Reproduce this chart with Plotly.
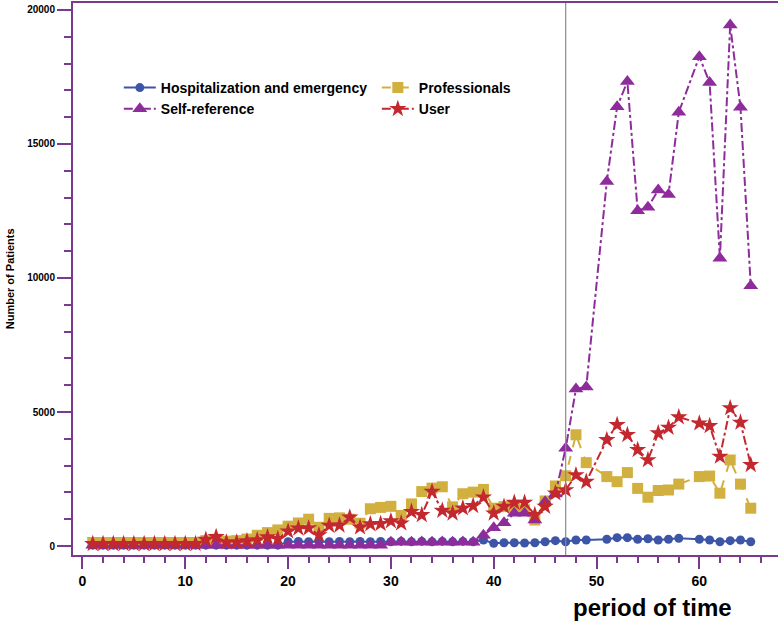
import plotly.graph_objects as go

period = list(range(1, 50)) + list(range(51, 59)) + list(range(60, 66))

hospitalization = [30]*19 + [160, 170, 160, 170, 160, 170, 160, 170, 160, 170,
                   160, 170, 160, 170, 160, 170, 160, 170, 160, 224, 100, 120, 120, 110,
                   120, 160, 200, 160, 224, 224,
                   250, 310, 310, 250, 270, 224, 250, 290,
                   250, 224, 160, 200, 224, 160]

professionals = [130]*11 + [200, 250, 180, 200, 260, 400, 500, 600, 740, 860, 1000, 700,
                 1030, 1050, 1000, 850, 1390, 1440, 1480, 1140, 1570, 2030, 2160, 2210,
                 1460, 1950, 2010, 2110, 1410, 1470, 1410, 1350, 970, 1680, 2240, 2620,
                 4150, 3110,
                 2590, 2400, 2740, 2150, 1820, 2070, 2090, 2310,
                 2590, 2610, 1970, 3210, 2310, 1410]

self_reference = [30]*29 + [140, 150, 140, 150, 140, 150, 140, 150, 140,
                  400, 680, 870, 1220, 1220, 970, 1650, 1940, 3650, 5860, 5930,
                  13600, 16390, 17330, 12510, 12640, 13280, 13120, 16180,
                  18260, 17290, 10740, 19440, 16370, 9710]

user = [80]*11 + [240, 340, 140, 140, 180, 220, 330, 270, 550, 660, 670, 410, 760,
        770, 1070, 700, 820, 830, 930, 850, 1280, 1160, 2030, 1320, 1220, 1410, 1500,
        1820, 1220, 1470, 1620, 1620, 1160, 1470, 1970, 2090, 2650, 2400,
        3960, 4520, 4150, 3590, 3210, 4210, 4420, 4810,
        4580, 4480, 3340, 5150, 4610, 3030]

x_ticks = [0, 10, 20, 30, 40, 50, 60]
y_ticks = [0, 5000, 10000, 15000, 20000]
y_ticktext = ["0", "5000", "10000", "15000", "20000"]

names = ["Hospitalization and emergency", "Professionals", "Self-reference", "User"]
colors = ["#3d55a6", "#d1b040", "#8e2c9c", "#c4282f"]
symbols = ["circle", "square", "triangle-up", "star"]
sizes = [9, 11, 13, 13]
dashes = ["solid", "dash", "dashdot", "dashdot"]
series = [hospitalization, professionals, self_reference, user]

AXIS = "#7a3b8f"
FONT = "Arial, Liberation Sans, sans-serif"

fig = go.Figure()
for name, vals, col, sym, sz, dsh in zip(names, series, colors, symbols, sizes, dashes):
    fig.add_trace(go.Scatter(
        x=period, y=vals, name=name, mode="lines+markers",
        line=dict(color=col, width=2, dash=dsh),
        marker=dict(symbol=sym, size=sz, color=col, line=dict(width=0)),
    ))

fig.add_shape(type="line", xref="x", yref="paper", x0=47, x1=47, y0=0, y1=1,
              line=dict(color="#8a8a8a", width=1.2))

fig.update_layout(
    width=778, height=623,
    margin=dict(l=73, r=0, t=3, b=68),
    plot_bgcolor="white", paper_bgcolor="white",
    showlegend=True,
    legend=dict(
        orientation="h", x=0.065, y=0.875, xanchor="left", yanchor="top",
        entrywidth=211, entrywidthmode="pixels", itemwidth=32,
        font=dict(family=FONT, size=14, color="black", weight="bold"),
        bgcolor="rgba(0,0,0,0)", tracegroupgap=0,
    ),
    xaxis=dict(
        range=[-0.92, 67.65], showgrid=False, zeroline=False,
        showline=True, linecolor=AXIS, linewidth=2, mirror=True,
        ticks="outside", ticklen=12, tickwidth=2, tickcolor=AXIS,
        tickvals=x_ticks,
        tickfont=dict(family=FONT, size=14, color="black", weight="bold"),
        minor=dict(dtick=2, tick0=0, ticks="outside", ticklen=6, tickwidth=2, tickcolor=AXIS),
    ),
    yaxis=dict(
        range=[-336, 20261], showgrid=False, zeroline=False,
        showline=True, linecolor=AXIS, linewidth=2,
        ticks="outside", ticklen=14, tickwidth=2, tickcolor=AXIS,
        tickvals=y_ticks, ticktext=y_ticktext,
        tickfont=dict(family=FONT, size=10, color="black", weight="bold"),
        minor=dict(dtick=1000, tick0=0, ticks="outside", ticklen=7, tickwidth=2, tickcolor=AXIS),
    ),
    annotations=[
        dict(text="Number of Patients", textangle=-90, xref="paper", yref="paper",
             x=-0.089, y=0.5, xanchor="center", yanchor="middle", showarrow=False,
             font=dict(family=FONT, size=11, color="black", weight="bold")),
        dict(text="period of time", xref="paper", yref="paper",
             x=0.822, y=-0.095, xanchor="center", yanchor="middle", showarrow=False,
             font=dict(family=FONT, size=24, color="black", weight="bold")),
    ],
)

fig.write_html("out.html", config={"displayModeBar": False},
               post_script="document.body.style.margin='0';")
